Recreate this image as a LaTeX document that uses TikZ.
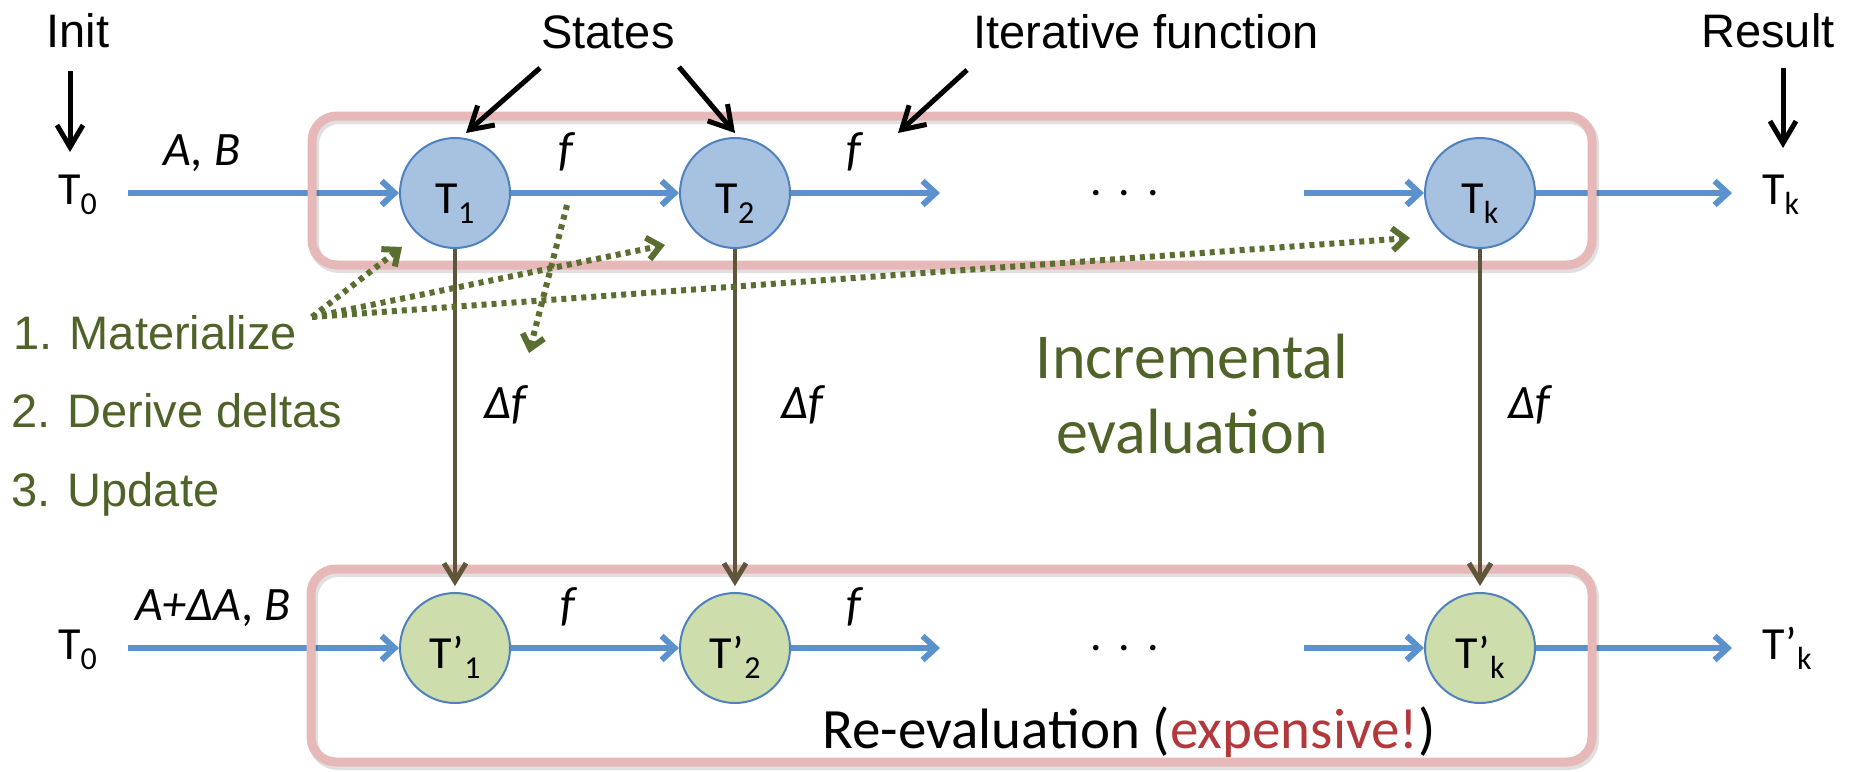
\documentclass[tikz,border=0pt]{standalone}
\usepackage{fontspec}
\setmainfont{Carlito}
\newfontfamily\arialf{Liberation Sans}
\usetikzlibrary{arrows.meta}
\definecolor{flowblue}{HTML}{5B92CD}
\definecolor{circblue}{HTML}{4F81BD}
\definecolor{stfill}{HTML}{A7C2E0}
\definecolor{stgreen}{HTML}{CDDDAC}
\definecolor{boxpink}{HTML}{E6B9B8}
\definecolor{deltabrown}{HTML}{5E5638}
\definecolor{stepgreen}{HTML}{4F6228}
\definecolor{dotgreen}{HTML}{5A6E30}
\definecolor{expred}{HTML}{B2383C}
\newcommand\sbs[1]{\raisebox{-10pt}{\fontsize{32}{32}\selectfont #1}}
\begin{document}
\begin{tikzpicture}[x=1pt,y=-1pt,
  flow/.style={draw=flowblue, line width=6pt, -{Straight Barb[length=13pt,width=24pt]}},
  state/.style={circle, draw=circblue, line width=2pt, fill=stfill, minimum size=110pt, inner sep=0pt, text height=40pt, text depth=0pt, font=\fontsize{46}{46}\selectfont},
  stateb/.style={state, fill=stgreen},
  pinkbox/.style={draw=boxpink, line width=9pt, rounded corners=25pt},
  boxshadow/.style={draw=black, opacity=0.12, line width=10pt, rounded corners=25pt},
  delta/.style={draw=deltabrown, line width=4pt, shorten >=6pt, -{Straight Barb[length=18pt,width=22pt,line width=5pt]}},
  gdot/.style={draw=dotgreen, line width=6pt, dash pattern=on 5pt off 5pt, -{Straight Barb[length=13pt,width=22pt]}},
  blk/.style={draw=black, line width=5pt, -{Straight Barb[length=22pt,width=26pt]}},
  lab/.style={font=\arialf\fontsize{47}{50}\selectfont, inner sep=0pt, anchor=base},
  steplab/.style={font=\arialf\fontsize{47}{50}\selectfont, text=stepgreen, inner sep=0pt, anchor=base west},
  tlab/.style={font=\fontsize{46}{46}\selectfont, inner sep=0pt, anchor=base west},
  itl/.style={font=\itshape\fontsize{48}{48}\selectfont, inner sep=0pt, anchor=base west}
]
\useasboundingbox (0,0) rectangle (1852,771);

% top labels
\node[lab] (init) at (78,47) {Init};
\node[lab] (states) at (608,48) {States};
\node[lab] (iter) at (1146,48) {Iterative function};
\node[lab] (result) at (1768,47) {Result};

% outside T labels
\node[tlab] (t0a) at (58,204) {T\sbs{0}};
\node[tlab] (tka) at (1762,204) {T\sbs{k}};
\node[tlab] (t0b) at (58,659) {T\sbs{0}};
\node[tlab] (tkb) at (1762,659) {T’\sbs{k}};

% state circles
\node[state] (T1) at (455,193) {T\sbs{1}};
\node[state] (T2) at (735,193) {T\sbs{2}};
\node[state] (Tk) at (1480,193) {T\sbs{k}};
\node[stateb] (T1b) at (455,648) {T’\sbs{1}};
\node[stateb] (T2b) at (735,648) {T’\sbs{2}};
\node[stateb] (Tkb) at (1480,648) {T’\sbs{k}};

% free ends
\coordinate (in1) at (128,193);
\coordinate (m1) at (940,193);
\coordinate (m2) at (1304,193);
\coordinate (out1) at (1732,193);
\coordinate (in2) at (128,648);
\coordinate (m3) at (940,648);
\coordinate (m4) at (1304,648);
\coordinate (out2) at (1732,648);

% flows
\draw[flow] (in1) -- (T1);
\draw[flow] (T1) -- (T2);
\draw[flow] (T2) -- (m1);
\draw[flow] (m2) -- (Tk);
\draw[flow] (Tk) -- (out1);
\draw[flow] (in2) -- (T1b);
\draw[flow] (T1b) -- (T2b);
\draw[flow] (T2b) -- (m3);
\draw[flow] (m4) -- (Tkb);
\draw[flow] (Tkb) -- (out2);

% boxes
\draw[boxshadow] (314,119) rectangle (1594,268);
\draw[boxshadow] (313,572) rectangle (1594,765);
\draw[pinkbox] (312,116) rectangle (1592,265);
\draw[pinkbox] (311,569) rectangle (1592,762);

% dots
\node[tlab] (dots1) at (1090,195) {.\hspace{17pt}.\hspace{17pt}.};
\node[tlab] (dots2) at (1090,650) {.\hspace{17pt}.\hspace{17pt}.};

% function labels
\node[itl] (ab) at (163,165) {A, B};
\node[itl] (f1) at (558,165) {f};
\node[itl] (f2) at (846,165) {f};
\node[itl] (abd) at (135,620) {A+ΔA, B};
\node[itl] (f3) at (560,620) {f};
\node[itl] (f4) at (846,620) {f};
\node[itl] (df1) at (484,418) {Δf};
\node[itl] (df2) at (781,418) {Δf};
\node[itl] (df3) at (1508,418) {Δf};

% delta arrows
\draw[delta] (T1) -- (T1b);
\draw[delta] (T2) -- (T2b);
\draw[delta] (Tk) -- (Tkb);

% black pointer arrows
\coordinate (ia) at (70,71); \coordinate (ib) at (70,152);
\coordinate (sa) at (540,68); \coordinate (sb) at (466,133);
\coordinate (sc) at (679,67); \coordinate (sd) at (735,133);
\coordinate (fa) at (967,70); \coordinate (fb) at (898,133);
\coordinate (ra) at (1783,68); \coordinate (rb) at (1783,148);
\draw[blk] (ia) -- (ib);
\draw[blk] (sa) -- (sb);
\draw[blk] (sc) -- (sd);
\draw[blk] (fa) -- (fb);
\draw[blk] (ra) -- (rb);

% steps
\node[steplab] (mat) at (13,349) {1. Materialize};
\node[steplab] (der) at (11,427) {2. Derive deltas};
\node[steplab] (upd) at (11,506) {3. Update};

% green dotted arrows
\coordinate (mo) at (312,317);
\coordinate (g1) at (402,247);
\coordinate (g2) at (665,245);
\coordinate (g3) at (1410,238);
\coordinate (d0) at (567,205);
\coordinate (d1) at (529,353);
\draw[gdot] (mo) -- (g1);
\draw[gdot] (mo) -- (g2);
\draw[gdot] (mo) -- (g3);
\draw[gdot] (d0) -- (d1);

% big texts
\node[font=\fontsize{64}{64}\selectfont, text=stepgreen, inner sep=0pt, anchor=base] (inc1) at (1192,378) {Incremental};
\node[font=\fontsize{64}{64}\selectfont, text=stepgreen, inner sep=0pt, anchor=base] (inc2) at (1192,453) {evaluation};
\node[font=\fontsize{57}{57}\selectfont, inner sep=0pt, anchor=base] (reev) at (1129,748) {Re-evaluation (\textcolor{expred}{expensive!})};
\end{tikzpicture}
\end{document}
